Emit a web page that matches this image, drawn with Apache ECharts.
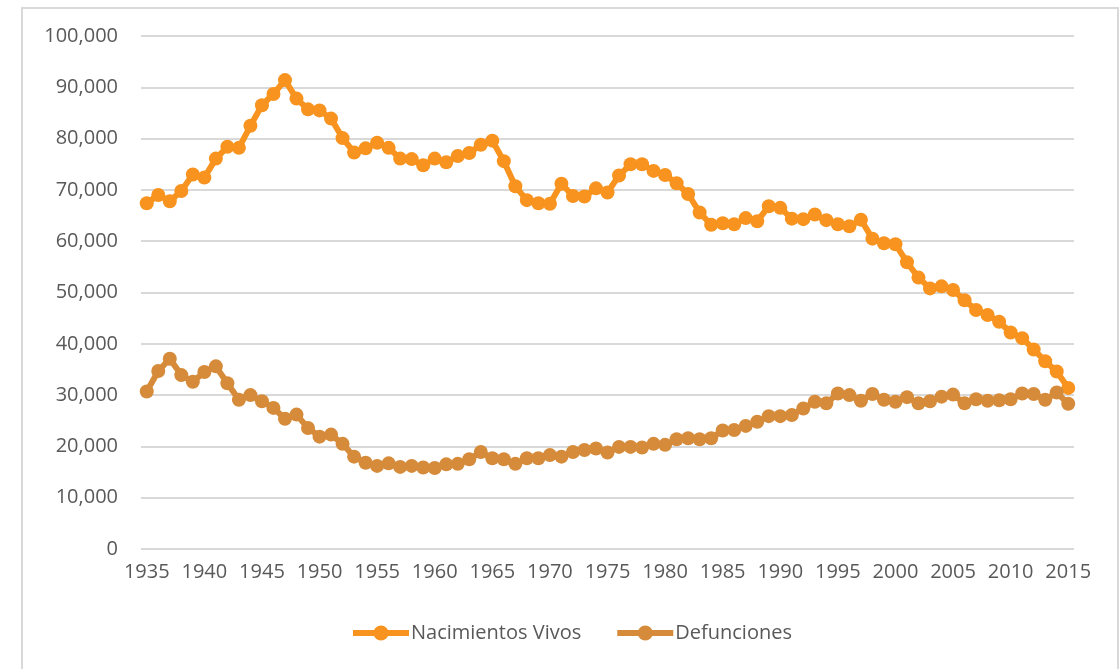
<!DOCTYPE html>
<html>
<head>
<meta charset="utf-8">
<title>Nacimientos Vivos y Defunciones</title>
<script src="https://cdn.jsdelivr.net/npm/echarts@6/dist/echarts.min.js"></script>
<style>
    html, body { margin: 0; padding: 0; background: #fff; overflow: hidden; }
    .frame {
        position: absolute;
        left: 21px;
        top: 7px;
        width: 1094px;
        height: 700px;
        border: 2px solid #d9d9d9;
    }
    .chart { width: 1094px; height: 700px; }
</style>
</head>
<body>
<div class="frame"><div class="chart"></div></div>
<script>
// categorias (años)
let years = [
    '1935', '1936', '1937', '1938', '1939', '1940', '1941', '1942', '1943', '1944',
    '1945', '1946', '1947', '1948', '1949', '1950', '1951', '1952', '1953', '1954',
    '1955', '1956', '1957', '1958', '1959', '1960', '1961', '1962', '1963', '1964',
    '1965', '1966', '1967', '1968', '1969', '1970', '1971', '1972', '1973', '1974',
    '1975', '1976', '1977', '1978', '1979', '1980', '1981', '1982', '1983', '1984',
    '1985', '1986', '1987', '1988', '1989', '1990', '1991', '1992', '1993', '1994',
    '1995', '1996', '1997', '1998', '1999', '2000', '2001', '2002', '2003', '2004',
    '2005', '2006', '2007', '2008', '2009', '2010', '2011', '2012', '2013', '2014',
    '2015'
];

// Nacimientos Vivos
let nacimientos = [
    67400, 69000, 67800, 69800, 73000, 72400, 76100, 78400, 78200, 82500,
    86500, 88700, 91400, 87800, 85700, 85500, 83900, 80100, 77300, 78100,
    79200, 78200, 76100, 76000, 74800, 76100, 75400, 76600, 77200, 78800,
    79600, 75600, 70700, 68000, 67400, 67300, 71200, 68800, 68700, 70300,
    69500, 72800, 75000, 75000, 73700, 72900, 71300, 69200, 65600, 63200,
    63500, 63300, 64500, 63900, 66800, 66500, 64400, 64300, 65200, 64100,
    63300, 62900, 64200, 60500, 59600, 59400, 55900, 52900, 50800, 51200,
    50500, 48500, 46600, 45600, 44300, 42200, 41100, 38900, 36600, 34600,
    31400
];

// Defunciones
let defunciones = [
    30700, 34700, 37100, 33900, 32600, 34500, 35600, 32300, 29100, 30000,
    28800, 27500, 25400, 26200, 23600, 21900, 22300, 20500, 18000, 16800,
    16200, 16700, 16000, 16200, 15900, 15800, 16500, 16600, 17500, 18900,
    17700, 17500, 16600, 17700, 17700, 18300, 18000, 18900, 19300, 19600,
    18800, 19900, 19900, 19800, 20500, 20300, 21400, 21600, 21400, 21600,
    23100, 23200, 24000, 24800, 25900, 25900, 26100, 27400, 28700, 28400,
    30300, 30000, 28900, 30200, 29100, 28700, 29600, 28400, 28800, 29700,
    30100, 28400, 29200, 28900, 29000, 29200, 30300, 30200, 29100, 30500,
    28300
];

// eje y
let yTicks = [0, 10000, 20000, 30000, 40000, 50000, 60000, 70000, 80000, 90000, 100000];

(function () {
    let myChart = echarts.init(document.querySelector('.chart'));
    let font = "'Open Sans', 'DejaVu Sans', sans-serif";

    function lineSeries(name, data, color) {
        return {
            name: name,
            type: 'line',
            data: data,
            symbol: 'circle',
            symbolSize: 14,
            showAllSymbol: true,
            lineStyle: { width: 6, color: color },
            itemStyle: { color: color },
            emphasis: { disabled: true }
        };
    }

    let option = {
        animation: false,
        textStyle: { fontFamily: font },
        grid: {
            left: 118,
            top: 27,
            width: 933,
            height: 513
        },
        legend: {
            left: 322,
            top: 609,
            itemWidth: 56,
            itemHeight: 19,
            itemGap: 33,
            lineStyle: { width: 6 },
            textStyle: { fontSize: 20, color: '#595959', fontFamily: font, padding: [0, 0, 0, -3] },
            data: ['Nacimientos Vivos', 'Defunciones']
        },
        xAxis: {
            type: 'category',
            data: years,
            boundaryGap: true,
            axisLine: { show: false },
            axisTick: { show: false },
            axisLabel: {
                interval: 4,
                fontSize: 20,
                color: '#595959',
                margin: 13
            }
        },
        yAxis: {
            type: 'value',
            min: yTicks[0],
            max: yTicks[yTicks.length - 1],
            interval: 10000,
            axisLine: { show: false },
            axisTick: { show: false },
            axisLabel: {
                fontSize: 20,
                color: '#595959',
                margin: 23,
                formatter: function (v) {
                    return v.toLocaleString('en-US');
                }
            },
            splitLine: { lineStyle: { color: '#d9d9d9', width: 2 } }
        },
        series: [
            lineSeries('Nacimientos Vivos', nacimientos, '#f7931e'),
            lineSeries('Defunciones', defunciones, '#d68b3a')
        ]
    };

    myChart.setOption(option);

    window.addEventListener('resize', function () {
        myChart.resize();
    });
})();
</script>
</body>
</html>
